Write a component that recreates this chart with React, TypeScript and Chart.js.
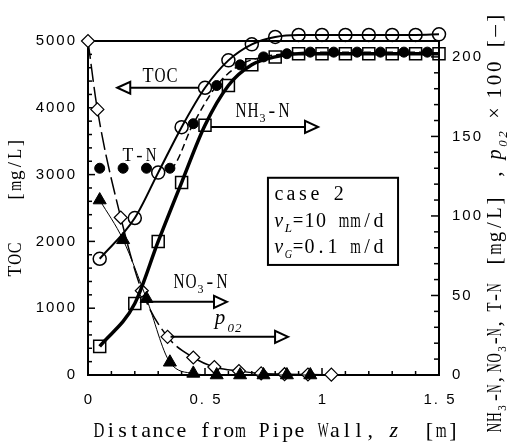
import React, { useEffect, useRef } from 'react';
import { Chart, registerables } from 'chart.js';
Chart.register(...registerables);

// ---------- data ----------
const tocX = [0.05, 0.2, 0.3, 0.4, 0.5, 0.6, 0.7, 0.8, 0.9, 1.0, 1.1, 1.2, 1.3, 1.4, 1.5];
const tocValues = [1740, 2350, 3030, 3710, 4300, 4710, 4950, 5060, 5090, 5090, 5090, 5090, 5090, 5090, 5100];

const nh3X = [0.05, 0.2, 0.3, 0.4, 0.5, 0.6, 0.7, 0.8, 0.9, 1.0, 1.1, 1.2, 1.3, 1.4, 1.5];
const nh3Values = [18, 45, 84, 121, 157, 182, 195, 200, 202, 202, 202, 202, 202, 202, 202];

const tnX = [0.05, 0.15, 0.25, 0.35, 0.45, 0.55, 0.65, 0.75, 0.85, 0.95, 1.05, 1.15, 1.25, 1.35, 1.45];
const tnValues = [130, 130, 130, 130, 158, 182, 195, 200, 202, 203, 203, 203, 203, 203, 203];

const no3X = [0.05, 0.15, 0.25, 0.35, 0.45, 0.55, 0.65, 0.75, 0.85, 0.95];
const no3Values = [110, 85, 48, 8, 1, 0, 0, 0, 0, 0];

const p02X = [0, 0.04, 0.14, 0.23, 0.34, 0.45, 0.54, 0.645, 0.74, 0.84, 0.94, 1.04];
const p02Values = [210, 167, 99, 53, 24, 11, 5, 2.5, 1, 0.5, 0.3, 0.2];

// ---------- axes ----------
const xMin = 0, xMax = 1.5, xMinorStep = 0.1;
const xTickValues = [0, 0.5, 1, 1.5];
const xTickLabels = ['0', '0. 5', '1', '1. 5'];
const leftMin = 0, leftMax = 5000, leftMinorStep = 200;
const leftTickValues = [0, 1000, 2000, 3000, 4000, 5000];
const leftTickLabels = ['0', '1000', '2000', '3000', '4000', '5000'];
const rightMin = 0, rightMax = 210, rightMinorStep = 10;
const rightTickValues = [0, 50, 100, 150, 200];
const rightTickLabels = ['0', '50', '100', '150', '200'];

// ---------- annotations (data units) ----------
const arrowTOC = { axis: 'yL', y: 4300, from: 0.5, to: 0.125, pad: 6 };
const arrowNH3 = { axis: 'yR', y: 156, from: 0.5, to: 0.983, pad: 6 };
const arrowNO3 = { axis: 'yR', y: 46, from: 0.25, to: 0.594, pad: 0 };
const arrowP02 = { axis: 'yR', y: 24, from: 0.34, to: 0.855, pad: 3 };
const labelTOC = { axis: 'yL', x: 0.231, y: 4384 };
const labelNH3 = { axis: 'yR', x: 0.628, y: 162 };
const labelNO3 = { axis: 'yR', x: 0.363, y: 54.7 };
const labelP02 = { axis: 'yR', x: 0.534, y: 32 };
const labelTN = { axis: 'yR', x: 0.145, y: 134.6 };
const caseBox = { x0: 0.769, x1: 1.325, y0: 124, y1: 69.2, textX: 0.79, lines: [110.1, 93.1, 76.7] };

const SERIF = '"Liberation Serif", "DejaVu Serif", serif';
const SANS = '"Liberation Sans", Arial, sans-serif';

type Run = { t: string; at?: number; cell: number; size: number; italic?: boolean; dy?: number };

function drawRuns(ctx: CanvasRenderingContext2D, runs: Run[], x0: number, baseline: number) {
  let cur = 0;
  for (const r of runs) {
    if (r.at !== undefined) cur = r.at;
    ctx.font = `${r.italic ? 'italic ' : ''}${r.size}px ${SERIF}`;
    for (const ch of r.t) {
      if (ch !== ' ') {
        const w = ctx.measureText(ch).width;
        const maxW = r.cell * 0.92;
        ctx.save();
        ctx.translate(x0 + cur + r.cell / 2, baseline + (r.dy || 0));
        if (w > maxW) ctx.scale(maxW / w, 1);
        ctx.textAlign = 'center';
        ctx.textBaseline = 'alphabetic';
        ctx.fillText(ch, 0, 0);
        ctx.restore();
      }
      cur += r.cell;
    }
  }
}

function drawArrow(ctx: CanvasRenderingContext2D, x0: number, x1: number, y: number) {
  const dir = Math.sign(x1 - x0);
  const headLen = 13, headHalf = 6;
  const base = x1 - dir * headLen;
  ctx.beginPath();
  ctx.moveTo(x0, y);
  ctx.lineTo(base, y);
  ctx.stroke();
  ctx.beginPath();
  ctx.moveTo(x1, y);
  ctx.lineTo(base, y - headHalf);
  ctx.lineTo(base, y + headHalf);
  ctx.closePath();
  ctx.fillStyle = '#fff';
  ctx.fill();
  ctx.stroke();
}

const pts = (xs: number[], ys: number[]) => xs.map((x, i) => ({ x, y: ys[i] }));

const decor = {
  id: 'decor',
  beforeDraw(chart: any) {
    const ctx = chart.ctx;
    ctx.save();
    ctx.fillStyle = '#fff';
    ctx.fillRect(0, 0, chart.width, chart.height);
    ctx.restore();
  },
  beforeDatasetsDraw(chart: any) {
    const ctx: CanvasRenderingContext2D = chart.ctx;
    const { left, right, top, bottom } = chart.chartArea;
    const sx = chart.scales.x, sl = chart.scales.yL, sr = chart.scales.yR;
    ctx.save();
    ctx.strokeStyle = '#000';
    ctx.lineWidth = 2;
    ctx.strokeRect(left, top, right - left, bottom - top);
    ctx.lineWidth = 1.5;
    // x ticks
    for (let v = xMin; v <= xMax + 1e-9; v += xMinorStep) {
      const major = xTickValues.some((t) => Math.abs(t - v) < 1e-6);
      const px = sx.getPixelForValue(v);
      ctx.beginPath();
      ctx.moveTo(px, bottom);
      ctx.lineTo(px, bottom - (major ? 7 : 4));
      ctx.stroke();
    }
    for (let v = leftMin; v <= leftMax + 1e-9; v += leftMinorStep) {
      const major = leftTickValues.some((t) => Math.abs(t - v) < 1e-6);
      const py = sl.getPixelForValue(v);
      ctx.beginPath();
      ctx.moveTo(left, py);
      ctx.lineTo(left + (major ? 7 : 4), py);
      ctx.stroke();
    }
    for (let v = rightMin; v <= rightMax + 1e-9; v += rightMinorStep) {
      const major = rightTickValues.some((t) => Math.abs(t - v) < 1e-6);
      const py = sr.getPixelForValue(v);
      ctx.beginPath();
      ctx.moveTo(right, py);
      ctx.lineTo(right - (major ? 8 : 5), py);
      ctx.stroke();
    }
    // tick labels
    ctx.fillStyle = '#000';
    ctx.font = `15px ${SANS}`;
    (ctx as any).letterSpacing = '2px';
    ctx.textBaseline = 'middle';
    ctx.textAlign = 'right';
    leftTickValues.forEach((v, i) => ctx.fillText(leftTickLabels[i], 77, sl.getPixelForValue(v)));
    ctx.textAlign = 'left';
    rightTickValues.forEach((v, i) => ctx.fillText(rightTickLabels[i], 452, sr.getPixelForValue(v)));
    ctx.textAlign = 'center';
    xTickValues.forEach((v, i) => ctx.fillText(xTickLabels[i], sx.getPixelForValue(v) + 1, 400));
    (ctx as any).letterSpacing = '0px';
    ctx.restore();
  },
  afterDraw(chart: any) {
    const ctx: CanvasRenderingContext2D = chart.ctx;
    const sx = chart.scales.x;
    const sc: any = { yL: chart.scales.yL, yR: chart.scales.yR };
    ctx.save();
    (ctx as any).letterSpacing = '0px';
    ctx.strokeStyle = '#000';
    ctx.fillStyle = '#000';
    ctx.lineWidth = 2;

    // arrows
    for (const a of [arrowTOC, arrowNH3, arrowNO3, arrowP02]) {
      const y = sc[a.axis].getPixelForValue(a.y);
      const x0 = sx.getPixelForValue(a.from);
      const x1 = sx.getPixelForValue(a.to);
      const dir = Math.sign(x1 - x0);
      drawArrow(ctx, x0 + dir * a.pad, x1, y);
    }
    ctx.fillStyle = '#000';

    // labels
    const at = (l: any) => [sx.getPixelForValue(l.x), sc[l.axis].getPixelForValue(l.y)];
    let p = at(labelTOC);
    drawRuns(ctx, [{ t: 'TOC', cell: 12, size: 20 }], p[0], p[1]);
    p = at(labelTN);
    drawRuns(ctx, [{ t: 'T-N', cell: 11.7, size: 19 }], p[0], p[1]);
    p = at(labelNH3);
    drawRuns(ctx, [
      { t: 'NH', cell: 12, size: 20 },
      { t: '3', cell: 7, size: 12, dy: 5 },
      { t: '-N', cell: 12, size: 20 },
    ], p[0], p[1]);
    p = at(labelNO3);
    drawRuns(ctx, [
      { t: 'NO', cell: 12, size: 20 },
      { t: '3', cell: 7, size: 12, dy: 5 },
      { t: '-N', cell: 12, size: 20 },
    ], p[0], p[1]);
    p = at(labelP02);
    drawRuns(ctx, [
      { t: 'p', cell: 14, size: 21, italic: true },
      { t: '02', cell: 7.5, size: 13, italic: true, dy: 8 },
    ], p[0], p[1]);

    // case box
    const bx0 = sx.getPixelForValue(caseBox.x0), bx1 = sx.getPixelForValue(caseBox.x1);
    const by0 = sc.yR.getPixelForValue(caseBox.y0), by1 = sc.yR.getPixelForValue(caseBox.y1);
    ctx.fillStyle = '#fff';
    ctx.fillRect(bx0, by0, bx1 - bx0, by1 - by0);
    ctx.lineWidth = 2;
    ctx.strokeRect(bx0, by0, bx1 - bx0, by1 - by0);
    ctx.fillStyle = '#000';
    const tx = sx.getPixelForValue(caseBox.textX);
    const [l1, l2, l3] = caseBox.lines.map((v) => sc.yR.getPixelForValue(v));
    drawRuns(ctx, [{ t: 'case 2', cell: 12, size: 20 }], tx, l1);
    drawRuns(ctx, [
      { t: 'v', cell: 11.5, size: 20, italic: true },
      { t: 'L', cell: 8, size: 13, italic: true, dy: 5 },
      { t: '=10 mm/d', cell: 11.5, size: 20 },
    ], tx, l2);
    drawRuns(ctx, [
      { t: 'v', cell: 11.5, size: 20, italic: true },
      { t: 'G', cell: 8, size: 13, italic: true, dy: 5 },
      { t: '=0.1 m/d', cell: 11.5, size: 20 },
    ], tx, l3);

    // x title
    drawRuns(ctx, [
      { t: 'Distance from Pipe Wall, ', cell: 11.8, size: 22 },
      { t: 'z', cell: 11.8, size: 22, italic: true },
      { t: '  [m]', cell: 11.8, size: 22 },
    ], 93, 437);

    // left title
    ctx.save();
    ctx.translate(15, 277);
    ctx.rotate(-Math.PI / 2);
    drawRuns(ctx, [
      { t: 'TOC', at: 0, cell: 11.7, size: 19 },
      { t: '[mg/L]', at: 75, cell: 10.7, size: 19 },
    ], 0, 6);
    ctx.restore();

    // right title
    ctx.save();
    ctx.translate(494, 433);
    ctx.rotate(-Math.PI / 2);
    drawRuns(ctx, [
      { t: 'NH', at: 0, cell: 10.5, size: 21 },
      { t: '3', at: 22, cell: 6, size: 12, dy: 5 },
      { t: '-N,', at: 31, cell: 9, size: 21 },
      { t: 'NO', at: 60, cell: 10, size: 21 },
      { t: '3', at: 81, cell: 6, size: 12, dy: 5 },
      { t: '-N,', at: 88, cell: 8.5, size: 21 },
      { t: 'T-N', at: 121, cell: 9.7, size: 21 },
      { t: '[mg/L]', at: 166, cell: 12, size: 21 },
      { t: ',', at: 255, cell: 8, size: 21 },
      { t: 'p', at: 273, cell: 11, size: 21, italic: true },
      { t: '02', at: 285, cell: 9, size: 13, italic: true, dy: 6 },
      { t: '×', at: 314, cell: 12, size: 21 },
      { t: '100', at: 333, cell: 13.3, size: 21 },
      { t: '[—]', at: 383, cell: 12.7, size: 21 },
    ], 0, 7);
    ctx.restore();

    ctx.restore();
  },
};

export default function App() {
  const ref = useRef<HTMLCanvasElement | null>(null);
  useEffect(() => {
    if (!ref.current) return;
    const transparent = 'rgba(0,0,0,0)';
    const chart = new Chart(ref.current, {
      type: 'scatter',
      data: {
        datasets: [
          {
            label: 'TOC',
            data: pts(tocX, tocValues),
            yAxisID: 'yL',
            showLine: true,
            borderColor: '#000',
            borderWidth: 2,
            pointStyle: 'circle',
            pointRadius: 6.5,
            pointBorderWidth: 1.5,
            pointBackgroundColor: transparent,
            pointBorderColor: '#000',
            cubicInterpolationMode: 'monotone',
            clip: false,
          },
          {
            label: 'NH3-N',
            data: pts(nh3X, nh3Values),
            yAxisID: 'yR',
            showLine: true,
            borderColor: '#000',
            borderWidth: 3.5,
            pointStyle: 'rect',
            pointRadius: 8.5,
            pointBorderWidth: 1.5,
            pointBackgroundColor: transparent,
            pointBorderColor: '#000',
            cubicInterpolationMode: 'monotone',
            clip: false,
          },
          {
            label: 'T-N',
            data: pts(tnX, tnValues),
            yAxisID: 'yR',
            showLine: true,
            borderColor: '#000',
            borderWidth: 1.5,
            borderDash: [7, 4],
            segment: { borderColor: (c: any) => (c.p1DataIndex <= 3 ? transparent : '#000') },
            pointStyle: 'circle',
            pointRadius: 5,
            pointBorderWidth: 1,
            pointBackgroundColor: '#000',
            pointBorderColor: '#000',
            cubicInterpolationMode: 'monotone',
            clip: false,
          },
          {
            label: 'NO3-N',
            data: pts(no3X, no3Values),
            yAxisID: 'yR',
            showLine: true,
            borderColor: '#000',
            borderWidth: 1,
            pointStyle: 'triangle',
            pointRadius: 7.5,
            pointBorderWidth: 1,
            pointBackgroundColor: '#000',
            pointBorderColor: '#000',
            cubicInterpolationMode: 'monotone',
            clip: false,
          },
          {
            label: 'p02',
            data: pts(p02X, p02Values),
            yAxisID: 'yR',
            showLine: true,
            borderColor: '#000',
            borderWidth: 1.5,
            borderDash: [18, 5],
            pointStyle: 'rectRot',
            pointRadius: 6.5,
            pointBorderWidth: 1.2,
            pointBackgroundColor: '#fff',
            pointBorderColor: '#000',
            cubicInterpolationMode: 'monotone',
            clip: false,
          },
        ],
      } as any,
      options: {
        responsive: false,
        animation: false,
        devicePixelRatio: 1,
        events: [],
        layout: { padding: { top: 41, left: 0, right: 0, bottom: 0 } },
        plugins: { legend: { display: false }, tooltip: { enabled: false } },
        scales: {
          x: {
            type: 'linear', position: 'bottom', min: xMin, max: xMax,
            grid: { display: false }, border: { display: false }, ticks: { display: false },
            afterFit: (s: any) => { s.height = 70; },
          },
          yL: {
            type: 'linear', position: 'left', min: leftMin, max: leftMax,
            grid: { display: false }, border: { display: false }, ticks: { display: false },
            afterFit: (s: any) => { s.width = 88; },
          },
          yR: {
            type: 'linear', position: 'right', min: rightMin, max: rightMax,
            grid: { display: false }, border: { display: false }, ticks: { display: false },
            afterFit: (s: any) => { s.width = 75; },
          },
        },
      } as any,
      plugins: [decor],
    });
    return () => chart.destroy();
  }, []);
  return (
    <div style={{ position: 'fixed', left: 0, top: 0, width: 514, height: 445, background: '#fff' }}>
      <canvas ref={ref} width={514} height={445} style={{ display: 'block', width: 514, height: 445 }} />
    </div>
  );
}
